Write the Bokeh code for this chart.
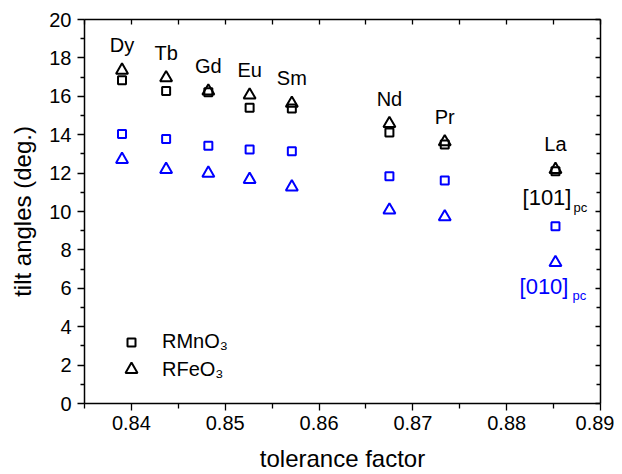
import numpy as np
from bokeh.plotting import figure
from bokeh.models import (Range1d, LinearAxis, FixedTicker, Legend, LegendItem,
                          ColumnDataSource, CustomJSTickFormatter)
from bokeh.core.properties import value
from bokeh.embed import file_html
from bokeh.resources import INLINE

# ---- data ----
elements = ["Dy", "Tb", "Gd", "Eu", "Sm", "Nd", "Pr", "La"]
tolerance = [0.8390, 0.8437, 0.8482, 0.8526, 0.8571, 0.8675, 0.8734, 0.8852]
mn_101 = [16.84, 16.28, 16.21, 15.40, 15.36, 14.11, 13.49, 12.10]   # RMnO3 [101]pc
fe_101 = [17.36, 16.96, 16.27, 16.06, 15.63, 14.58, 13.63, 12.19]   # RFeO3 [101]pc
mn_010 = [14.03, 13.77, 13.42, 13.23, 13.14, 11.84, 11.61, 9.23]    # RMnO3 [010]pc
fe_010 = [12.71, 12.19, 11.99, 11.67, 11.28, 10.07, 9.72, 7.34]     # RFeO3 [010]pc
x_ticks = [0.84, 0.85, 0.86, 0.87, 0.88, 0.89]
x_minor = [0.835, 0.845, 0.855, 0.865, 0.875, 0.885]
y_ticks = [0, 2, 4, 6, 8, 10, 12, 14, 16, 18, 20]
y_minor = [1, 3, 5, 7, 9, 11, 13, 15, 17, 19]

FONT = "Liberation Sans"
BLUE = "#0000FF"
BLACK = "#000000"

p = figure(width=614, height=474, output_backend="svg", toolbar_location=None,
           x_range=Range1d(0.835, 0.89), y_range=Range1d(0, 20),
           min_border_left=84, min_border_right=14, min_border_top=19,
           min_border_bottom=71)
p.grid.visible = False
p.outline_line_color = None
p.background_fill_color = "white"
p.border_fill_color = "white"

src = ColumnDataSource(dict(t=tolerance, mn101=mn_101, fe101=fe_101,
                            mn010=mn_010, fe010=fe_010, el=elements,
                            lab_y=np.array(fe_101) + 1.3))

r_mn = p.scatter("t", "mn101", source=src, marker="square", size=8,
                 fill_color=None, line_color=BLACK, line_width=2)
r_fe = p.scatter("t", "fe101", source=src, marker="triangle", size=12,
                 fill_color=None, line_color=BLACK, line_width=2)
p.scatter("t", "mn010", source=src, marker="square", size=8,
          fill_color=None, line_color=BLUE, line_width=2)
p.scatter("t", "fe010", source=src, marker="triangle", size=12,
          fill_color=None, line_color=BLUE, line_width=2)

# element labels
p.text("t", "lab_y", text="el", source=src, text_font=value(FONT),
       text_font_size="20px", text_align="center", text_baseline="alphabetic",
       text_color=BLACK)

# direction labels next to La
la_t = tolerance[-1]
p.text(x=[la_t], y=[fe_101[-1] - 1.44], text=["[101]"], text_font=value(FONT),
       text_font_size="22px", text_align="right", text_baseline="alphabetic",
       x_offset=16, text_color=BLACK)
p.text(x=[la_t], y=[fe_101[-1] - 1.96], text=["pc"], text_font=value(FONT),
       text_font_size="13px", text_align="left", text_baseline="alphabetic",
       x_offset=18, text_color=BLACK)
p.text(x=[la_t], y=[fe_010[-1] - 1.27], text=["[010]"], text_font=value(FONT),
       text_font_size="22px", text_align="right", text_baseline="alphabetic",
       x_offset=13, text_color=BLUE)
p.text(x=[la_t], y=[fe_010[-1] - 1.71], text=["pc"], text_font=value(FONT),
       text_font_size="13px", text_align="left", text_baseline="alphabetic",
       x_offset=17, text_color=BLUE)

# axes
def style_axis(ax):
    ax.axis_line_color = BLACK
    ax.axis_line_width = 1.5
    ax.major_tick_line_color = BLACK
    ax.minor_tick_line_color = BLACK
    ax.major_tick_line_width = 1.3
    ax.minor_tick_line_width = 1.3
    ax.major_label_text_font = FONT
    ax.major_label_text_font_size = "20px"
    ax.major_label_text_color = BLACK
    ax.axis_label_text_font = FONT
    ax.axis_label_text_font_size = "24px"
    ax.axis_label_text_font_style = "normal"
    ax.axis_label_text_color = BLACK

xb = p.xaxis[0]
xb.ticker = FixedTicker(ticks=x_ticks, minor_ticks=x_minor)
style_axis(xb)
xb.major_tick_out = 7
xb.major_tick_in = 0
xb.minor_tick_out = 5
xb.minor_tick_in = 0
xb.major_label_standoff = 5
xb.axis_label = "tolerance factor"
xb.axis_label_standoff = 12

yl = p.yaxis[0]
yl.ticker = FixedTicker(ticks=y_ticks, minor_ticks=y_minor)
style_axis(yl)
yl.major_tick_out = 7
yl.major_tick_in = 0
yl.minor_tick_out = 4
yl.minor_tick_in = 0
yl.major_label_standoff = 6
yl.axis_label = "tilt angles (deg.)"
yl.axis_label_standoff = 10

blank = CustomJSTickFormatter(code="return ''")

xt = LinearAxis(ticker=FixedTicker(ticks=x_ticks, minor_ticks=x_minor),
                formatter=blank)
style_axis(xt)
xt.major_tick_out = 0
xt.major_tick_in = 5
xt.minor_tick_out = 0
xt.minor_tick_in = 5
xt.major_label_standoff = 0
p.add_layout(xt, "above")

yr = LinearAxis(ticker=FixedTicker(ticks=y_ticks, minor_ticks=y_minor),
                formatter=blank)
style_axis(yr)
yr.major_tick_out = 0
yr.major_tick_in = 5
yr.minor_tick_out = 0
yr.minor_tick_in = 4
yr.major_label_standoff = 0
p.add_layout(yr, "right")

def make_legend(label, renderer, glyph, standoff, loc):
    lg = Legend(items=[LegendItem(label=label, renderers=[renderer])],
                location=loc, orientation="vertical")
    lg.label_text_font = FONT
    lg.label_text_font_size = "20px"
    lg.label_text_color = BLACK
    lg.label_text_baseline = "middle"
    lg.glyph_width = glyph
    lg.glyph_height = glyph
    lg.label_height = glyph
    lg.label_standoff = standoff
    lg.spacing = 0
    lg.padding = 0
    lg.margin = 0
    lg.border_line_color = None
    lg.background_fill_alpha = 0
    return lg

p.add_layout(make_legend("RMnO\u2083", r_mn, 20, 21, (37, 50)), "center")
p.add_layout(make_legend("RFeO\u2083", r_fe, 30, 16, (32, 19)), "center")

open("out.html", "w").write(file_html(p, INLINE))
